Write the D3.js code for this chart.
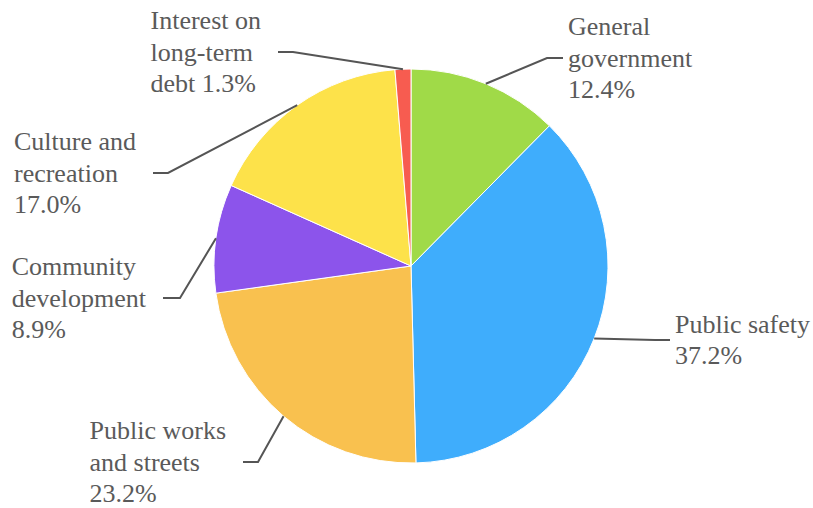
<!DOCTYPE html>
<html>
<head>
<meta charset="utf-8">
<script src="https://cdn.jsdelivr.net/npm/d3@7"></script>
<style>
  html, body { margin: 0; padding: 0; background: #fff; }
  svg { display: block; }
</style>
</head>
<body>
<svg id="chart" width="813" height="508"></svg>
<script>
// Spending by function, share of total (%)
const categories = [
  "General government",
  "Public safety",
  "Public works and streets",
  "Community development",
  "Culture and recreation",
  "Interest on long-term debt"
];
const shares = [12.4, 37.2, 23.2, 8.9, 17.0, 1.3];
const colors = ["#a0da48", "#3fadfc", "#f9c14f", "#8c54eb", "#fde24a", "#f75c50"];

// Leader-line geometry per slice: elbow point and horizontal run (negative = leftwards)
const labelLayout = [
  { elbow: [547, 58],  run: 16 },
  { elbow: [655, 340], run: 15 },
  { elbow: [258, 462], run: -15 },
  { elbow: [180, 298], run: -17 },
  { elbow: [168, 173], run: -15 },
  { elbow: [293, 52],  run: -15 }
];

const width = 813, height = 508;
const cx = 411, cy = 266, radius = 197;
const fontSize = 26, lineHeight = 31.7, wrapWidth = 150;
const fontFamily = '"Liberation Serif", "Times New Roman", Times, serif';

const svg = d3.select("#chart");
const g = svg.append("g").attr("transform", `translate(${cx},${cy})`);

const data = categories.map((name, i) => ({ name, value: shares[i], color: colors[i], layout: labelLayout[i] }));

const pie = d3.pie().value(d => d.value).sort(null);
const arc = d3.arc().innerRadius(0).outerRadius(radius);
const arcs = pie(data);

g.selectAll("path.slice")
  .data(arcs)
  .join("path")
  .attr("class", "slice")
  .attr("d", arc)
  .attr("fill", d => d.data.color)
  .attr("stroke", "#fff")
  .attr("stroke-width", 1);

// Leader lines from slice edge to label
const edgeArc = d3.arc().innerRadius(radius).outerRadius(radius);
g.selectAll("polyline.leader")
  .data(arcs)
  .join("polyline")
  .attr("class", "leader")
  .attr("fill", "none")
  .attr("stroke", "#555")
  .attr("stroke-width", 2)
  .attr("points", d => {
    const p0 = edgeArc.centroid(d);
    const e = d.data.layout.elbow;
    const p1 = [e[0] - cx, e[1] - cy];
    const p2 = [p1[0] + d.data.layout.run, p1[1]];
    return [p0, p1, p2].map(p => p.join(",")).join(" ");
  });

// Labels: "name value%" word-wrapped into lines
const labels = g.selectAll("text.label")
  .data(arcs)
  .join("text")
  .attr("class", "label")
  .style("font-family", fontFamily)
  .style("font-size", fontSize + "px")
  .attr("fill", "#5a5a5a");

labels.each(function(d) {
  const text = d3.select(this);
  const words = `${d.data.name} ${d3.format(".1f")(d.data.value)}%`.split(" ");
  const lines = [];
  let current = [];
  const probe = text.append("tspan");
  words.forEach(w => {
    const attempt = current.concat(w).join(" ");
    probe.text(attempt);
    if (current.length && probe.node().getComputedTextLength() > wrapWidth) {
      lines.push(current.join(" "));
      current = [w];
    } else {
      current.push(w);
    }
  });
  lines.push(current.join(" "));
  probe.remove();

  const e = d.data.layout.elbow;
  const endX = e[0] - cx + d.data.layout.run;
  const endY = e[1] - cy;
  const n = lines.length;
  const spans = lines.map((line, i) =>
    text.append("tspan")
      .attr("y", endY + (i - (n - 1) / 2) * lineHeight + 8.5)
      .text(line));
  const blockWidth = d3.max(spans, s => s.node().getComputedTextLength());
  const left = d.data.layout.run > 0 ? endX + 5 : endX - 17 - blockWidth;
  spans.forEach(s => s.attr("x", left));
});
</script>
</body>
</html>
